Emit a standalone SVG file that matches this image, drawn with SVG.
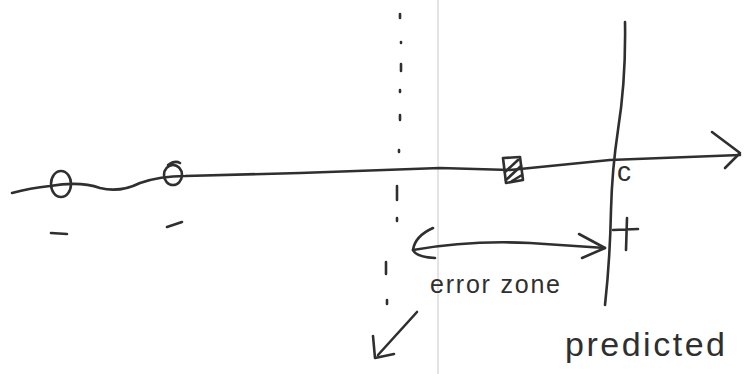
<svg xmlns="http://www.w3.org/2000/svg" width="744" height="374" viewBox="0 0 744 374">
<style>
.s{fill:none;stroke:#2f2f2f;stroke-width:2.6;stroke-linecap:round;stroke-linejoin:round}
.t{font-family:"Liberation Sans",Arial,sans-serif;fill:#2f2f2f}
</style>
<rect width="744" height="374" fill="#ffffff"/>
<line x1="438" y1="0" x2="438" y2="374" stroke="#c8c8c8" stroke-width="1"/>
<g id="connectors">
<path class="s" d="M12,193 Q30,188 50,186 Q80,181 100,188 Q120,193 140,183 Q160,176 185,176 L300,173 Q380,170 440,168 L510,170 Q560,165 610,160 L740,155"/>
<path class="s" d="M712,132 L740,153 L725,168"/>
<path class="s" d="M400,14 v4 M401,42 v1 M401,64 v7 M400,90 v2 M400,115 v5 M399,150 v2 M397,186 v14 M397,218 v3 M386,262 v12 M387,300 v4" stroke-width="2"/>
<path class="s" d="M417,312 L378,355"/>
<path class="s" d="M373,336 L375,358 L394,354"/>
<path class="s" d="M433,228 Q415,236 413,250 Q416,257 435,258"/>
<path class="s" d="M413,250 Q470,240 530,243 Q575,246 605,248"/>
<path class="s" d="M579,234 L605,248 L582,258"/>
</g>
<g id="node-neg1">
<ellipse class="s" cx="61" cy="184" rx="10" ry="13"/>
<path class="s" d="M51,233 L67,234" stroke-width="3"/>
</g>
<g id="node-neg2">
<ellipse class="s" cx="173" cy="175" rx="9" ry="10"/>
<path class="s" d="M168,165 Q175,160 180,163" stroke-width="2"/>
<path class="s" d="M167,227 L182,222" stroke-width="3"/>
</g>
<g id="node-square">
<path class="s" d="M503,158 L520,157 L523,180 L506,183 Z"/>
<path class="s" d="M505,172 L518,160 M506,180 L521,166 M512,181 L522,175" stroke-width="1.6"/>
</g>
<g id="node-predicted">
<path class="s" d="M625,22 Q626,80 618,130 Q612,170 611,210 Q610,260 605,305"/>
<text class="t" x="617" y="181" font-size="28">c</text>
<path class="s" d="M613,230 L638,229 M627,218 L626,250"/>
<text class="t" x="565" y="356" font-size="34" textLength="160" lengthAdjust="spacing">predicted</text>
</g>
<g id="node-error-zone">
<text class="t" x="430" y="293" font-size="25" textLength="130" lengthAdjust="spacing">error zone</text>
</g>
</svg>
